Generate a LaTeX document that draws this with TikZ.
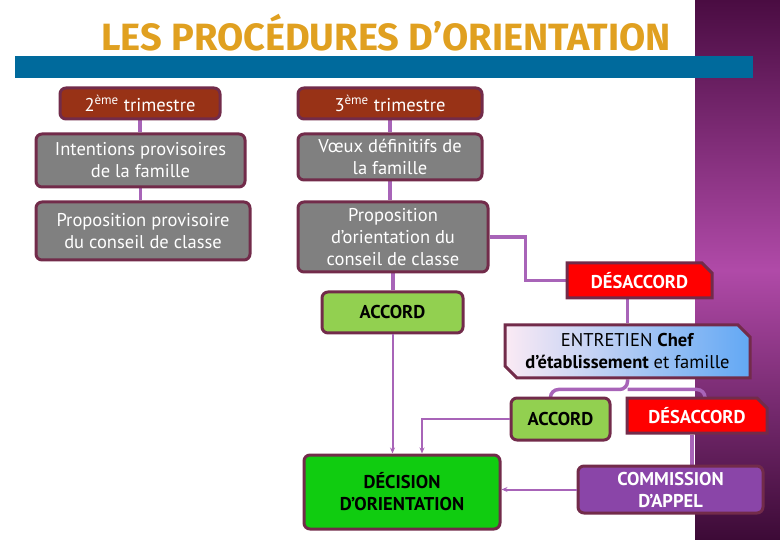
\documentclass[tikz,border=0pt]{standalone}
\usepackage{fontspec}
\setmainfont{PT Sans}
\newfontfamily\titlefont{Fira Sans}
\usepackage{tikz}
\usetikzlibrary{positioning,arrows.meta,shapes.misc,calc}
\usepackage{xcolor}
\definecolor{boxmaroon}{HTML}{722B4A}
\definecolor{trimred}{HTML}{983216}
\definecolor{boxgray}{HTML}{808080}
\definecolor{lightgreen}{HTML}{92D050}
\definecolor{brightgreen}{HTML}{10CC10}
\definecolor{appelpurple}{HTML}{8A45A8}
\definecolor{linkpurple}{HTML}{A864B8}
\definecolor{titleorange}{HTML}{E0A020}
\definecolor{barblue}{HTML}{006A9C}
\definecolor{panela}{HTML}{4A0C42}
\definecolor{panelb}{HTML}{B04AA8}
\definecolor{panelc}{HTML}{3C0A36}
\definecolor{entpink}{HTML}{FBEAF4}
\definecolor{entblue}{HTML}{62A8F4}
\pgfdeclarelayer{panel}
\pgfdeclarelayer{links}
\pgfsetlayers{panel,links,main}

\begin{document}
\begin{tikzpicture}[x=1pt, y=-1pt,
    stepbox/.style={draw=boxmaroon, line width=3pt, rounded corners=6pt, align=center, inner sep=2pt, font=\fontsize{18.5}{22}\selectfont},
    trimbox/.style={stepbox, fill=trimred, text=white},
    graybox/.style={stepbox, fill=boxgray, text=white},
    okbox/.style={stepbox, fill=lightgreen, text=black, font=\fontsize{18.5}{22}\selectfont\bfseries},
    nobox/.style={stepbox, rounded corners=0pt, chamfered rectangle, chamfered rectangle corners=north east, chamfered rectangle xsep=5pt, chamfered rectangle ysep=5pt, fill=red, text=white, font=\fontsize{18.5}{22}\selectfont\bfseries},
    link/.style={draw=linkpurple, line width=3.5pt},
    arrowlink/.style={draw=linkpurple, line width=2pt, -{Stealth[length=6pt, width=5pt]}},
]
\useasboundingbox (0,0) rectangle (780,540);
% background panel and title
\begin{pgfonlayer}{panel}
\shade[top color=panela, bottom color=panelc, middle color=panelb] (695,0) rectangle (780,540);
\end{pgfonlayer}
\fill[barblue] (15,56) rectangle (753,78);
\node[text=titleorange, font=\titlefont\fontsize{38}{42}\selectfont\bfseries] (title) at (386,33) {LES PROCÉDURES D’ORIENTATION};

% left column
\node[trimbox, minimum width=160pt, minimum height=31pt] (t2) at (140,103.5) {2\textsuperscript{ème} trimestre};
\node[graybox, minimum width=209pt, minimum height=53pt] (intF) at (140.5,160.5) {Intentions provisoires\\de la famille};
\node[graybox, minimum width=214pt, minimum height=58pt] (propP) at (143,231) {Proposition provisoire\\du conseil de classe};

% right column
\node[trimbox, minimum width=184pt, minimum height=31pt] (t3) at (390,103.5) {3\textsuperscript{ème} trimestre};
\node[graybox, minimum width=184pt, minimum height=46pt] (voeux) at (390,157) {Vœux définitifs de\\la famille};
\node[graybox, minimum width=190pt, minimum height=70pt] (propO) at (393,237) {Proposition\\d’orientation du\\conseil de classe};
\node[okbox, minimum width=141pt, minimum height=41pt] (accordA) at (392.5,312.5) {ACCORD};
\node[nobox, minimum width=145pt, minimum height=35pt] (desacA) at (639.5,280.5) {DÉSACCORD};
\node[stepbox, rounded corners=0pt, chamfered rectangle, chamfered rectangle corners={north east,south west}, chamfered rectangle xsep=6pt, chamfered rectangle ysep=6pt, left color=entpink, right color=entblue, text=black, minimum width=245pt, minimum height=53pt] (entret) at (627.5,351.5) {ENTRETIEN \textbf{Chef}\\\textbf{d’établissement} et famille};
\node[okbox, minimum width=99pt, minimum height=42pt] (accordB) at (560.5,419) {ACCORD};
\node[nobox, minimum width=140pt, minimum height=35pt] (desacB) at (697,415.5) {DÉSACCORD};
\node[stepbox, fill=brightgreen, text=black, font=\fontsize{18.5}{22}\selectfont\bfseries, minimum width=196pt, minimum height=74pt] (decis) at (402,492) {DÉCISION\\D’ORIENTATION};
\node[stepbox, fill=appelpurple, text=white, font=\fontsize{18.5}{22}\selectfont\bfseries, minimum width=185pt, minimum height=47pt] (commis) at (670.5,489.5) {COMMISSION\\D’APPEL};

% connectors
\begin{pgfonlayer}{links}
\draw[link] (t2.south) -- (t2.south |- intF.north);
\draw[link] (intF.south) -- (intF.south |- propP.north);
\draw[link] (t3.south) -- (t3.south |- voeux.north);
\draw[link] (voeux.south) -- (voeux.south |- propO.north);
\draw[link] (propO.east) -| ([xshift=-40pt]desacA.west) |- (desacA.west);
\draw[link] (propO.south) -- (propO.south |- accordA.north);
\draw[link] (entret.north |- desacA.south) -- (entret.north);
\coordinate (split) at ([yshift=-10pt]entret.south);
\draw[link, rounded corners=8pt] (entret.south) -- (split) -| ([xshift=-10pt]accordB.north);
\draw[link, rounded corners=8pt] (split) -| ([xshift=8pt]desacB.north);
\draw[link] ([xshift=-5pt]desacB.south) -- ([xshift=-5pt]desacB.south |- commis.north);
\end{pgfonlayer}
\draw[arrowlink] (accordA.south) -- (accordA.south |- decis.north);
\draw[arrowlink] (accordB.west) -| ([xshift=20pt]decis.north);
\draw[arrowlink] (commis.west) -- (commis.west -| decis.east);
\end{tikzpicture}
\end{document}
